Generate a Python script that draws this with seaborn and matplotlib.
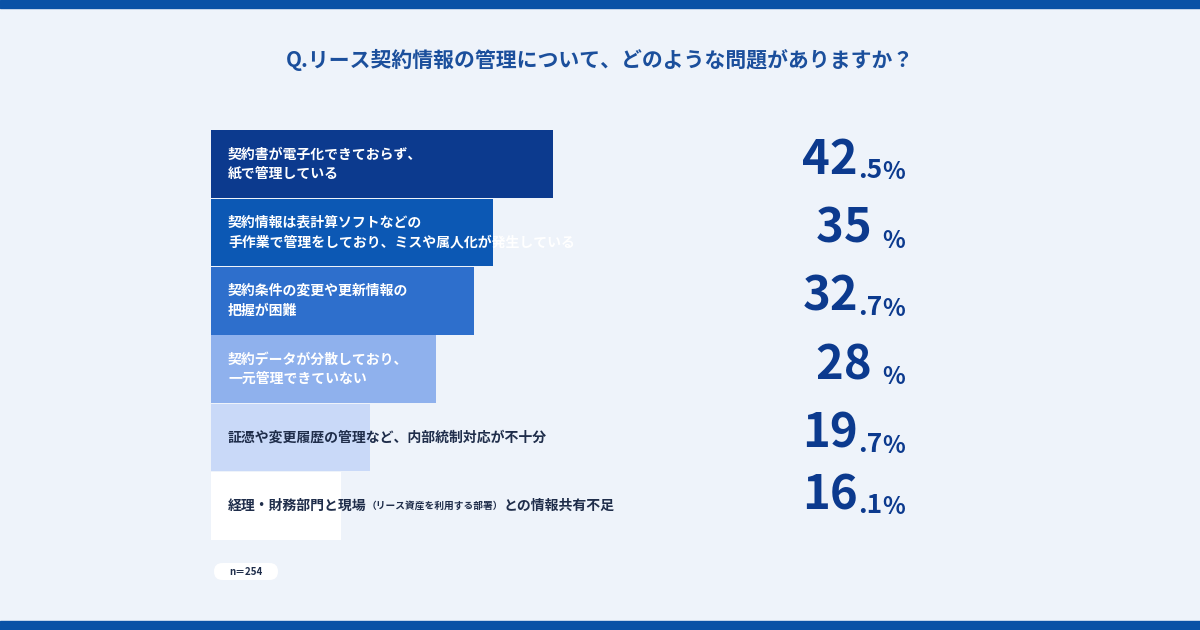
import matplotlib
matplotlib.use("Agg")
import matplotlib.pyplot as plt
import seaborn as sns
import pandas as pd
from matplotlib.patches import Rectangle, FancyBboxPatch

labels = ["契約書が電子化できておらず、\n紙で管理している",
          "契約情報は表計算ソフトなどの\n手作業で管理をしており、ミスや属人化が発生している",
          "契約条件の変更や更新情報の\n把握が困難",
          "契約データが分散しており、\n一元管理できていない",
          "証憑や変更履歴の管理など、内部統制対応が不十分",
          "経理・財務部門と現場"]
values = [42.5, 35, 32.7, 28, 19.7, 16.1]
int_parts = ["42", "35", "32", "28", "19", "16"]
dec_parts = [".5", "", ".7", "", ".7", ".1"]
colors = ["#0c3a8e", "#0c58b4", "#2e6fcc", "#8fb1ed", "#c9d9f8", "#ffffff"]
text_colors = ["white", "white", "white", "white", "#1f2d4a", "#1f2d4a"]
title = "Q.リース契約情報の管理について、どのような問題がありますか？"
n_label = "n＝254"

FONT = "Noto Sans CJK JP"
plt.rcParams["font.family"] = FONT
BLUE = "#0c3a8e"

fig = plt.figure(figsize=(12, 6.3), dpi=100)
fig.patch.set_facecolor("#eef3fa")
bg = fig.add_axes([0, 0, 1, 1])
bg.set_xlim(0, 1200); bg.set_ylim(630, 0); bg.axis("off")
bg.add_patch(Rectangle((0, 0), 1200, 8, color="#0a52a6"))
bg.add_patch(Rectangle((0, 621), 1200, 9, color="#0a52a6"))
bg.text(600, 60, title, ha="center", va="center", fontsize=15, fontweight="bold", color="#1b4f9c")
bg.add_patch(FancyBboxPatch((214, 563), 64, 17, boxstyle="round,pad=0,rounding_size=8.5", fc="white", ec="none"))
bg.text(246, 572, n_label, ha="center", va="center", fontsize=7, fontweight="bold", color="#1f2d4a")

ax = fig.add_axes([211/1200, 90/630, 805/1200, 410/630])
df = pd.DataFrame({"label": [str(i) for i in range(6)], "value": values})
sns.barplot(data=df, y="label", x="value", hue="label", palette=colors, legend=False,
            orient="h", width=0.99, ax=ax, saturation=1)
ax.set_xlim(0, 100)
ax.axis("off")

px = 805/100
for i, (lab, tc) in enumerate(zip(labels, text_colors)):
    t = ax.text(17/px, i, lab, ha="left", va="center", fontsize=10, fontweight="bold",
                color=tc, linespacing=1.5)
    if i == 5:
        t2 = ax.annotate("（リース資産を利用する部署）", xy=(1, 0.5), xycoords=t, ha="left", va="center",
                         fontsize=7, fontweight="bold", color=tc)
        ax.annotate("との情報共有不足", xy=(1, 0.5), xycoords=t2, ha="left", va="center",
                    fontsize=10, fontweight="bold", color=tc)
    xr = (905-211)/px
    yb = i + 0.22 if i < 5 else i + 0.12
    pt = ax.text(xr, yb, "%", ha="right", va="baseline", fontsize=17, fontweight="bold", color=BLUE)
    prev = pt
    if dec_parts[i]:
        prev = ax.annotate(dec_parts[i], xy=(0, 0), xycoords=pt, ha="right", va="bottom",
                           fontsize=19, fontweight="bold", color=BLUE)
    ax.annotate(int_parts[i] + (" " if not dec_parts[i] else ""), xy=(0, 0), xycoords=prev,
                ha="right", va="bottom", fontsize=34, fontweight="bold", color=BLUE)

fig.savefig("out.png", dpi=100, facecolor=fig.get_facecolor())
